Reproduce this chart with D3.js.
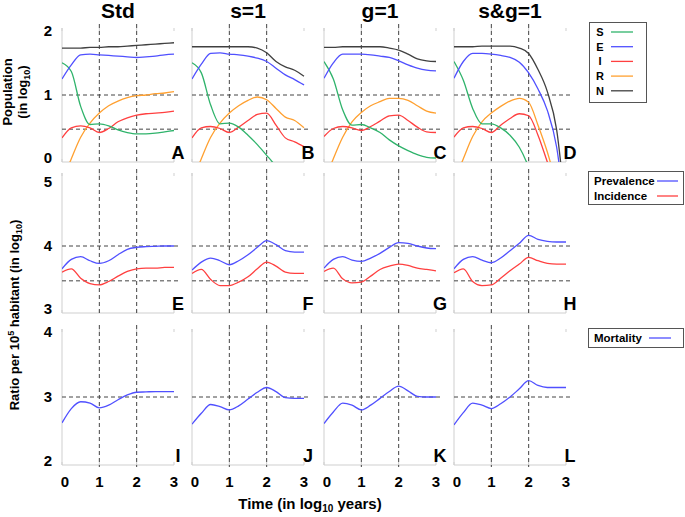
<!DOCTYPE html>
<html><head><meta charset="utf-8">
<script src="https://cdn.jsdelivr.net/npm/d3@7"></script>
<style>
body{margin:0;background:#fff;}
svg{font-family:"Liberation Sans",Arial,sans-serif;}
</style></head>
<body><svg id="c" width="685" height="517"></svg>
<script>
// ---------- data ----------
const times = [0,0.25,0.5,0.75,1,1.25,1.5,1.75,2,2.25,2.5,2.75,3];
const xTicks = [0,1,2,3];
const colTitles = ["Std","s=1","g=1","s&g=1"];
const panelLetters = [["A","B","C","D"],["E","F","G","H"],["I","J","K","L"]];
const rowTicks = [[0,1,2],[3,4,5],[2,3,4]];
const rowRefLines = [[0.49,1],[3.48,4],[3]];

// top row: population compartments (log10), one array per scenario
const S = [
 [1.48,1.35,0.83,0.56,0.57,0.54,0.48,0.44,0.42,0.42,0.43,0.45,0.47],
 [1.48,1.33,0.85,0.57,0.58,0.52,0.40,0.26,0.10,-0.07,-0.3,-0.6,-0.9],
 [1.50,1.24,0.78,0.55,0.56,0.51,0.44,0.33,0.24,0.17,0.11,0.07,0.06],
 [1.50,1.22,0.80,0.57,0.57,0.51,0.40,0.22,-0.08,-0.5,-0.9,-1.3,-1.7]];
const E = [
 [1.24,1.45,1.60,1.61,1.60,1.59,1.58,1.57,1.56,1.57,1.58,1.60,1.61],
 [1.24,1.46,1.62,1.63,1.61,1.60,1.58,1.55,1.50,1.40,1.30,1.23,1.15],
 [1.25,1.48,1.61,1.61,1.61,1.60,1.58,1.56,1.51,1.45,1.40,1.37,1.36],
 [1.25,1.50,1.62,1.62,1.61,1.59,1.56,1.49,1.33,1.09,0.77,0.22,-0.9]];
const I = [
 [0.36,0.51,0.54,0.51,0.44,0.50,0.60,0.66,0.70,0.72,0.73,0.74,0.76],
 [0.36,0.51,0.53,0.50,0.44,0.52,0.62,0.71,0.73,0.55,0.36,0.30,0.23],
 [0.38,0.50,0.53,0.51,0.47,0.53,0.61,0.69,0.70,0.62,0.52,0.45,0.44],
 [0.37,0.51,0.53,0.50,0.44,0.55,0.65,0.72,0.69,0.40,0.0,-0.4,-0.9]];
const R = [
 [-0.3,0.05,0.37,0.58,0.73,0.84,0.91,0.96,0.99,1.00,1.02,1.03,1.05],
 [-0.3,0.05,0.37,0.58,0.73,0.84,0.92,0.97,0.93,0.80,0.67,0.62,0.51],
 [-0.3,0.05,0.37,0.60,0.74,0.84,0.90,0.95,0.95,0.92,0.84,0.76,0.73],
 [-0.3,0.05,0.38,0.60,0.73,0.83,0.91,0.95,0.89,0.55,0.15,-0.35,-0.9]];
const N = [
 [1.70,1.70,1.70,1.71,1.71,1.72,1.72,1.73,1.74,1.75,1.76,1.77,1.78],
 [1.72,1.72,1.72,1.72,1.72,1.72,1.72,1.70,1.63,1.50,1.42,1.37,1.28],
 [1.71,1.71,1.72,1.72,1.72,1.72,1.72,1.70,1.67,1.61,1.54,1.51,1.50],
 [1.72,1.72,1.72,1.73,1.73,1.73,1.73,1.70,1.62,1.38,1.05,0.48,-0.8]];
// middle row
const prevalence = [
 [3.66,3.80,3.84,3.78,3.74,3.78,3.87,3.95,3.98,3.99,3.995,4.0,4.0],
 [3.64,3.76,3.82,3.78,3.72,3.78,3.87,3.98,4.08,4.02,3.93,3.91,3.91],
 [3.67,3.80,3.84,3.79,3.77,3.82,3.89,3.98,4.05,4.04,4.0,3.97,3.96],
 [3.66,3.80,3.84,3.79,3.75,3.82,3.93,4.04,4.16,4.10,4.07,4.06,4.06]];
const incidence = [
 [3.61,3.66,3.52,3.44,3.42,3.47,3.55,3.62,3.66,3.67,3.67,3.68,3.68],
 [3.59,3.65,3.50,3.41,3.41,3.46,3.54,3.66,3.76,3.70,3.61,3.59,3.59],
 [3.62,3.67,3.51,3.45,3.46,3.55,3.65,3.70,3.73,3.71,3.67,3.65,3.63],
 [3.60,3.66,3.47,3.41,3.42,3.52,3.63,3.73,3.83,3.78,3.74,3.73,3.73]];
// bottom row
const mortality = [
 [2.62,2.83,2.93,2.91,2.84,2.88,2.96,3.03,3.07,3.075,3.08,3.08,3.08],
 [2.60,2.76,2.89,2.86,2.81,2.87,2.97,3.07,3.14,3.08,2.99,2.98,2.98],
 [2.61,2.78,2.91,2.88,2.81,2.88,2.98,3.08,3.16,3.09,3.01,3.0,3.0],
 [2.59,2.77,2.91,2.88,2.83,2.90,3.0,3.12,3.24,3.17,3.14,3.14,3.14]];

// ---------- layout ----------
const svg = d3.select("#c");
const colX = [62,192,324,454], W = 112;
const rowY = [[162,28],[313,179],[465,329]];
const rowDom = [[0,2],[3,5],[2,4]];
const C = {S:"#2fb36b",E:"#5050ff",I:"#ff4040",R:"#ffa030",N:"#404040"};

const defs = svg.append("defs");

function seriesFor(r,c){
  if(r===0) return [["R",R[c]],["I",I[c]],["S",S[c]],["E",E[c]],["N",N[c]]];
  if(r===1) return [["E",prevalence[c]],["I",incidence[c]]];
  return [["E",mortality[c]]];
}

for(let r=0;r<3;r++){
  const y = d3.scaleLinear().domain(rowDom[r]).range(rowY[r]);
  for(let c=0;c<4;c++){
    const x = d3.scaleLinear().domain([0,3]).range([colX[c],colX[c]+W]);
    const g = svg.append("g");
    const top = rowY[r][1] - (r===1?6:0), bot = rowY[r][0];
    // light frame
    g.append("line").attr("x1",x(0)).attr("x2",x(0)).attr("y1",top).attr("y2",bot).attr("stroke","#cfcfcf");
    g.append("line").attr("x1",x(0)).attr("x2",x(3)).attr("y1",bot).attr("y2",bot).attr("stroke","#cfcfcf");
    xTicks.forEach(t=>{
      g.append("line").attr("x1",x(t)).attr("x2",x(t)).attr("y1",top).attr("y2",top+3).attr("stroke","#cfcfcf");
      g.append("line").attr("x1",x(t)).attr("x2",x(t)).attr("y1",bot).attr("y2",bot-3).attr("stroke","#cfcfcf");
    });
    // reference dashed lines
    [1,2].forEach(t=>{
      g.append("line").attr("x1",x(t)).attr("x2",x(t)).attr("y1",top-4).attr("y2",bot+2)
        .attr("stroke","#444").attr("stroke-dasharray","4,3").attr("stroke-width",1);
    });
    rowRefLines[r].forEach(v=>{
      g.append("line").attr("x1",x(0)).attr("x2",x(3)+6).attr("y1",y(v)).attr("y2",y(v))
        .attr("stroke","#444").attr("stroke-dasharray","4,3").attr("stroke-width",1);
    });
    // clip
    const id = "clip"+r+c;
    defs.append("clipPath").attr("id",id).append("rect")
      .attr("x",x(0)).attr("y",top-10).attr("width",W+2).attr("height",bot-top+10);
    const line = d3.line().x((d,i)=>x(times[i])).y(d=>y(d)).curve(d3.curveMonotoneX);
    seriesFor(r,c).forEach(([k,vals])=>{
      g.append("path").attr("d",line(vals)).attr("fill","none")
        .attr("stroke",C[k]).attr("stroke-width",1.3).attr("clip-path","url(#"+id+")");
    });
    // panel letter
    g.append("text").attr("x",x(3)+4).attr("y",bot-3).attr("text-anchor","middle")
      .attr("font-weight","bold").attr("font-size",18).text(panelLetters[r][c]);
    // x tick labels
    if(r===2){
      xTicks.forEach(t=>{
        g.append("text").attr("x",x(t)+(t===0?3:0)).attr("y",487).attr("text-anchor","middle")
          .attr("font-weight","bold").attr("font-size",15).text(t);
      });
    }
    // y tick labels
    if(c===0){
      rowTicks[r].forEach((v,i)=>{
        const adj = i===0?-4:(i===2?3:0);
        g.append("text").attr("x",52).attr("y",y(v)+adj).attr("dy","0.36em").attr("text-anchor","end")
          .attr("font-weight","bold").attr("font-size",15).text(v);
      });
    }
    if(r===0){
      svg.append("text").attr("x",x(1.5)).attr("y",18).attr("text-anchor","middle")
        .attr("font-weight","bold").attr("font-size",21).text(colTitles[c]);
    }
  }
}

// axis titles
const t1 = svg.append("text").attr("transform","translate(12,92) rotate(-90)").attr("text-anchor","middle")
  .attr("font-weight","bold").attr("font-size",13);
t1.append("tspan").attr("x",0).attr("dy",0).text("Population");
const t1b = svg.append("text").attr("transform","translate(27,92) rotate(-90)").attr("text-anchor","middle")
  .attr("font-weight","bold").attr("font-size",13);
t1b.append("tspan").text("(in log");
t1b.append("tspan").attr("font-size",9).attr("dy",3).text("10");
t1b.append("tspan").attr("dy",-3).text(")");

const t2 = svg.append("text").attr("transform","translate(19,315) rotate(-90)").attr("text-anchor","middle")
  .attr("font-weight","bold").attr("font-size",13);
t2.append("tspan").text("Ratio per 10");
t2.append("tspan").attr("font-size",9).attr("dy",-5).text("5");
t2.append("tspan").attr("dy",5).text(" habitant (in log");
t2.append("tspan").attr("font-size",9).attr("dy",3).text("10");
t2.append("tspan").attr("dy",-3).text(")");

const tx = svg.append("text").attr("x",310).attr("y",509).attr("text-anchor","middle")
  .attr("font-weight","bold").attr("font-size",15);
tx.append("tspan").text("Time (in log");
tx.append("tspan").attr("font-size",10).attr("dy",3).text("10");
tx.append("tspan").attr("dy",-3).text(" years)");

// legends
const lg1 = svg.append("g");
lg1.append("rect").attr("x",589.5).attr("y",22.5).attr("width",57).attr("height",80).attr("fill","#fff").attr("stroke","#555");
["S","E","I","R","N"].forEach((k,i)=>{
  const yy = 32 + i*14.7;
  lg1.append("text").attr("x",600).attr("y",yy).attr("dy","0.36em").attr("text-anchor","middle")
    .attr("font-weight","bold").attr("font-size",11).text(k);
  lg1.append("line").attr("x1",611).attr("x2",633).attr("y1",yy).attr("y2",yy).attr("stroke",C[k]).attr("stroke-width",1.3);
});
const lg2 = svg.append("g");
lg2.append("rect").attr("x",588.5).attr("y",171.5).attr("width",95).attr("height",33).attr("fill","#fff").attr("stroke","#555");
[["Prevalence","E",181],["Incidence","I",196]].forEach(([t,k,yy])=>{
  lg2.append("text").attr("x",594).attr("y",yy).attr("dy","0.36em").attr("font-weight","bold").attr("font-size",11.5).text(t);
  lg2.append("line").attr("x1",657).attr("x2",678).attr("y1",yy).attr("y2",yy).attr("stroke",C[k]).attr("stroke-width",1.3);
});
const lg3 = svg.append("g");
lg3.append("rect").attr("x",588.5).attr("y",328.5).attr("width",95).attr("height",19).attr("fill","#fff").attr("stroke","#555");
lg3.append("text").attr("x",594).attr("y",338).attr("dy","0.36em").attr("font-weight","bold").attr("font-size",11.5).text("Mortality");
lg3.append("line").attr("x1",649).attr("x2",671).attr("y1",338).attr("y2",338).attr("stroke",C.E).attr("stroke-width",1.3);
</script></body></html>
